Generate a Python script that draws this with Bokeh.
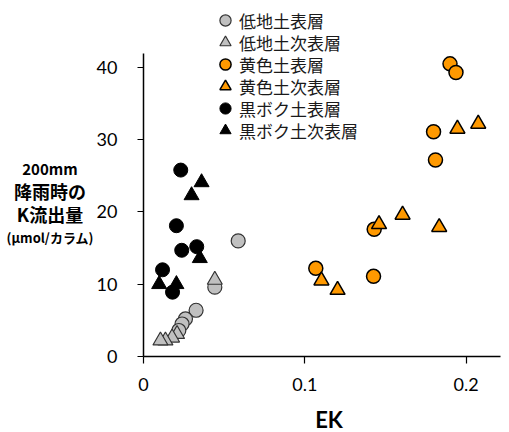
from bokeh.plotting import figure
from bokeh.models import Range1d, Legend, LegendItem, FixedTicker, Div
from bokeh.layouts import row, column
from bokeh.embed import file_html
from bokeh.resources import INLINE

# 低地土表層
lowland_top_x = [0.0587, 0.0442, 0.0326, 0.0260, 0.0239, 0.0219]
lowland_top_y = [16.0, 9.6, 6.4, 5.2, 4.5, 3.6]
# 低地土次表層
lowland_sub_x = [0.0442, 0.0208, 0.0177, 0.0136, 0.0105]
lowland_sub_y = [10.6, 3.1, 2.6, 2.2, 2.2]
# 黄色土表層
yellow_top_x = [0.1900, 0.1937, 0.1798, 0.1810, 0.1430, 0.1068, 0.1426]
yellow_top_y = [40.5, 39.3, 31.1, 27.2, 17.6, 12.2, 11.1]
# 黄色土次表層
yellow_sub_x = [0.1946, 0.2075, 0.1460, 0.1606, 0.1833, 0.1103, 0.1203]
yellow_sub_y = [31.5, 32.2, 18.3, 19.6, 17.9, 10.5, 9.2]
# 黒ボク土表層
andosol_top_x = [0.0231, 0.0204, 0.0237, 0.0330, 0.0118, 0.0180]
andosol_top_y = [25.8, 18.1, 14.7, 15.2, 12.0, 8.9]
# 黒ボク土次表層
andosol_sub_x = [0.0360, 0.0298, 0.0349, 0.0097, 0.0204]
andosol_sub_y = [24.1, 22.3, 13.6, 10.0, 10.0]

series_names = ["低地土表層", "低地土次表層", "黄色土表層", "黄色土次表層", "黒ボク土表層", "黒ボク土次表層"]
x_ticks = [0, 0.1, 0.2]
y_ticks = [0, 10, 20, 30, 40]
x_title = "EK"
ylabel_lines = ["200mm", "降雨時の", "K流出量", "(μmol/カラム)"]

p = figure(width=416, height=405, output_backend="svg", toolbar_location=None,
           x_range=Range1d(0, 0.2213), y_range=Range1d(0, 49.27),
           min_border_left=50, min_border_right=9, min_border_top=0, min_border_bottom=49,
           margin=0)
p.outline_line_color = None
p.xgrid.visible = False
p.ygrid.visible = False
p.background_fill_color = "white"
p.border_fill_color = "white"

tick_font = "Lato"
for ax in (p.xaxis[0], p.yaxis[0]):
    ax.axis_line_color = "black"
    ax.axis_line_width = 1.5
    ax.major_tick_line_color = "black"
    ax.major_tick_line_width = 1.2
    ax.major_tick_in = 0
    ax.major_tick_out = 7
    ax.minor_tick_line_color = None
    ax.major_label_text_font = tick_font
    ax.major_label_text_font_size = "18px"
    ax.major_label_text_color = "black"

p.xaxis[0].ticker = FixedTicker(ticks=x_ticks)
p.yaxis[0].ticker = FixedTicker(ticks=y_ticks)
p.yaxis[0].bounds = (0, 42)
p.xaxis[0].major_label_overrides = {0: "0", 0.1: "0.1", 0.2: "0.2"}
p.xaxis[0].major_label_standoff = 14
p.yaxis[0].major_tick_out = 6
p.yaxis[0].major_label_standoff = 20

gray = "#c0c0c0"
orange = "#ff9900"
r1 = p.scatter(lowland_top_x, lowland_top_y, marker="circle", size=14, fill_color=gray, line_color="#333333", line_width=1.2)
r2 = p.scatter(lowland_sub_x, lowland_sub_y, marker="triangle", size=15, fill_color=gray, line_color="#333333", line_width=1.2)
r3 = p.scatter(yellow_top_x, yellow_top_y, marker="circle", size=14, fill_color=orange, line_color="black", line_width=1.5)
r4 = p.scatter(yellow_sub_x, yellow_sub_y, marker="triangle", size=15, fill_color=orange, line_color="black", line_width=1.5)
r5 = p.scatter(andosol_top_x, andosol_top_y, marker="circle", size=14, fill_color="black", line_color="black", line_width=1)
r6 = p.scatter(andosol_sub_x, andosol_sub_y, marker="triangle", size=15, fill_color="black", line_color="black", line_width=1)

renderers = [r1, r2, r3, r4, r5, r6]
items = [LegendItem(label=n, renderers=[r]) for n, r in zip(series_names, renderers)]

legend_style = dict(orientation="vertical", glyph_width=28, glyph_height=28, spacing=16,
                    label_standoff=-4, padding=0, margin=0, border_line_color=None,
                    background_fill_alpha=0, label_text_font="Noto Sans CJK JP",
                    label_text_font_size="17px", label_text_color="#1a1a1a")
# interleaved rows: odd entries and even entries as two stacked legends
legend_a = Legend(items=items[0::2], location=(68, 234), **legend_style)
legend_b = Legend(items=items[1::2], location=(68, 212), **legend_style)
p.add_layout(legend_a, "center")
p.add_layout(legend_b, "center")

line_sizes = ["15px", "18px", "18px", "13px"]
lines_html = "".join(
    f'<div style="font-size:{fs}; line-height:23px; white-space:nowrap;">{t}</div>'
    for t, fs in zip(ylabel_lines, line_sizes))
ylabel_div = Div(
    text=(f'<div style="width:100px; padding-top:157px; text-align:center; '
          f'font-family:\'Noto Sans CJK JP\'; font-weight:bold; color:black;">{lines_html}</div>'),
    width=93, height=432, margin=0, styles={"overflow": "visible"})

xlabel_div = Div(
    text=(f'<div style="width:100px; margin-left:186px; padding-top:4px; text-align:center; '
          f'font-family:Lato; font-weight:bold; font-size:22px; line-height:22px; color:black;">{x_title}</div>'),
    width=416, height=27, margin=0, styles={"overflow": "visible"})

layout = row(ylabel_div, column(p, xlabel_div, spacing=0, margin=0), spacing=0, margin=0)

open("out.html", "w").write(file_html(layout, INLINE))
